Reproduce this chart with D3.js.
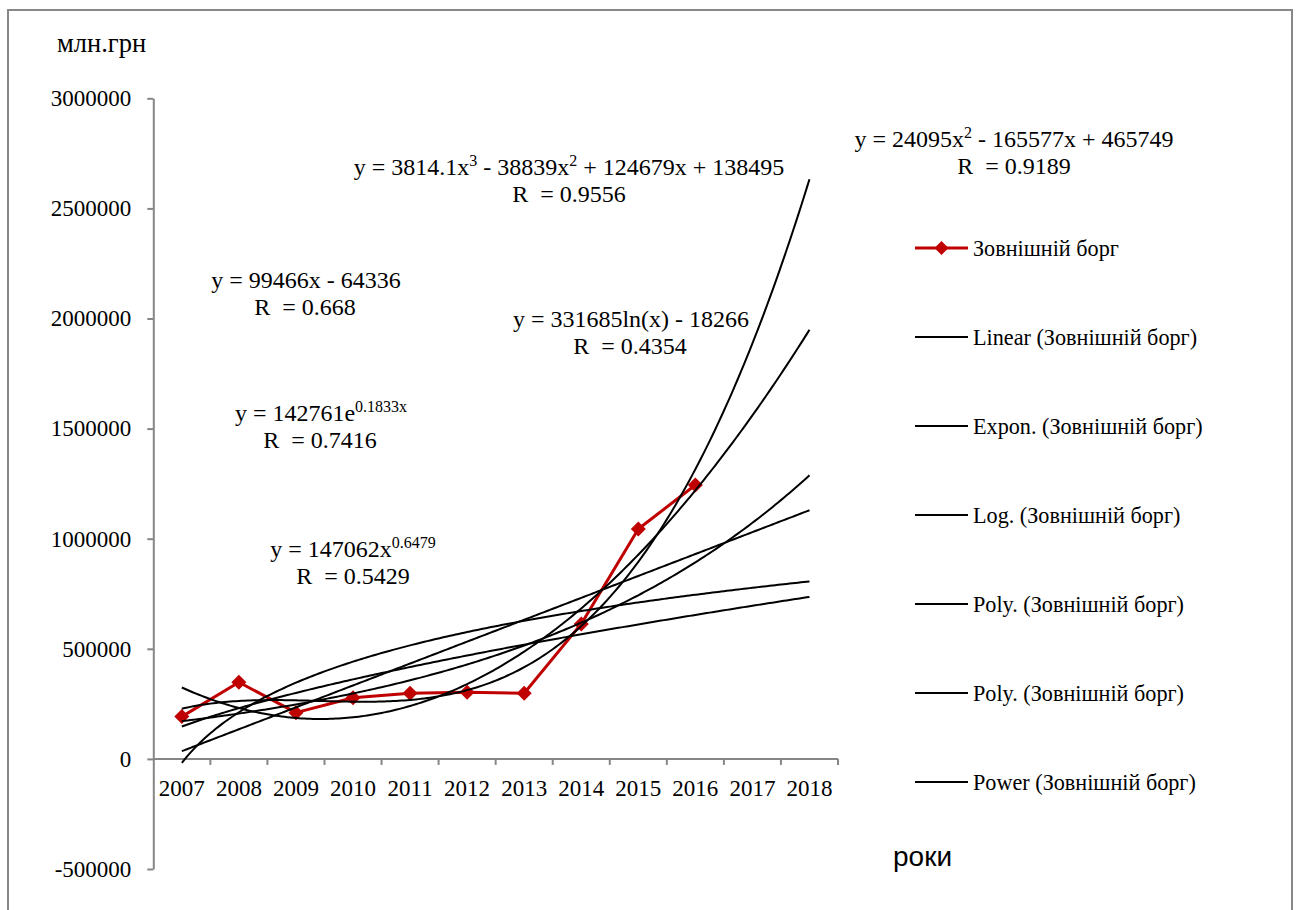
<!DOCTYPE html>
<html>
<head>
<meta charset="utf-8">
<script src="https://cdn.jsdelivr.net/npm/d3@7/dist/d3.min.js"></script>
<style>
  body { margin: 0; background: #fff; }
  svg { display: block; }
  text { font-family: "Liberation Serif", "Times New Roman", serif; fill: #000; white-space: pre; }
</style>
</head>
<body>
<svg id="chart" width="1298" height="910"></svg>
<script>
// ---- data ----
const years = [2007, 2008, 2009, 2010, 2011, 2012, 2013, 2014, 2015, 2016, 2017, 2018];
const debtYears = [2007, 2008, 2009, 2010, 2011, 2012, 2013, 2014, 2015, 2016];
const debtValues = [192000, 348000, 210000, 278000, 298000, 303000, 298000, 613000, 1044000, 1244000];
const yTickValues = [-500000, 0, 500000, 1000000, 1500000, 2000000, 2500000, 3000000];
const seriesName = "Зовнішній борг";
const unitLabel = "млн.грн";
const xAxisTitle = "роки";

// trendline coefficients (x = 1, 2, 3 ... for each year)
const linearCoef = [99466, -64336];                  // a*x + b
const exponCoef = [142761, 0.1833];                  // a*e^(b*x)
const logCoef = [331685, -18266];                    // a*ln(x) + b
const poly2Coef = [24095, -165577, 465749];          // a*x^2 + b*x + c
const poly3Coef = [3814.1, -38839, 124679, 138495];  // a*x^3 + b*x^2 + c*x + d
const powerCoef = [147062, 0.6479];                  // a*x^b
const rValues = { linear: 0.668, expon: 0.7416, log: 0.4354, poly2: 0.9189, poly3: 0.9556, power: 0.5429 };
const legendNames = ["Linear", "Expon.", "Log.", "Poly.", "Poly.", "Power"];

// ---- layout ----
const svg = d3.select("#chart");
const plot = { left: 153.3, right: 838, top: 98.3, bottom: 869 };

svg.append("rect")
  .attr("x", 8).attr("y", 10).attr("width", 1284).attr("height", 920)
  .attr("fill", "none").attr("stroke", "#888").attr("stroke-width", 2);

const x = d3.scaleBand().domain(years).range([plot.left, plot.right]).padding(0);
const y = d3.scaleLinear().domain([-500000, 3000000]).range([plot.bottom, plot.top]);
const xc = d => x(d) + x.bandwidth() / 2;
// continuous x for trendlines: index 1 -> first year centre, 12 -> last year centre
const xt = d3.scaleLinear().domain([1, years.length]).range([xc(years[0]), xc(years[years.length - 1])]);

const axisColor = "#868686";

// y axis
const yAxis = svg.append("g")
  .attr("transform", `translate(${plot.left},0)`)
  .call(d3.axisLeft(y).tickValues(yTickValues).tickSize(6).tickPadding(16)
    .tickFormat(d => String(d)).tickSizeOuter(0));
yAxis.select(".domain").attr("stroke", axisColor).attr("stroke-width", 2);
yAxis.selectAll(".tick line").attr("stroke", axisColor).attr("stroke-width", 2);
yAxis.selectAll(".tick text")
  .attr("font-size", 23).attr("fill", "#000")
  .style("font-family", '"Liberation Serif", "Times New Roman", serif');

// x axis at zero, ticks at category boundaries
const y0 = y(0);
const xAxis = svg.append("g");
xAxis.append("line")
  .attr("x1", plot.left).attr("x2", plot.right).attr("y1", y0).attr("y2", y0)
  .attr("stroke", axisColor).attr("stroke-width", 2);
const boundaries = years.map(d => x(d)).concat([x(years[years.length - 1]) + x.bandwidth()]).slice(1);
xAxis.selectAll("line.tk").data(boundaries).join("line")
  .attr("class", "tk")
  .attr("x1", d => d).attr("x2", d => d).attr("y1", y0).attr("y2", y0 + 6)
  .attr("stroke", axisColor).attr("stroke-width", 2);
xAxis.selectAll("text").data(years).join("text")
  .attr("x", d => xc(d)).attr("y", y0 + 37)
  .attr("text-anchor", "middle").attr("font-size", 23)
  .text(d => d);

// axis titles
svg.append("text").attr("x", 57).attr("y", 52).attr("font-size", 26.5).text(unitLabel);
svg.append("text").attr("x", 893).attr("y", 866).attr("font-size", 28)
  .style("font-family", '"Liberation Sans", Arial, sans-serif').text(xAxisTitle);

// ---- data series ----
const debtColor = "#C00000";
const seriesData = debtYears.map((yr, i) => ({ yr, v: debtValues[i] }));
svg.append("path")
  .datum(seriesData)
  .attr("fill", "none").attr("stroke", debtColor).attr("stroke-width", 3)
  .attr("stroke-linejoin", "round")
  .attr("d", d3.line().x(d => xc(d.yr)).y(d => y(d.v)));

const diamond = r => `M0,${-r}L${r},0L0,${r}L${-r},0Z`;
svg.selectAll("path.mk").data(seriesData).join("path")
  .attr("class", "mk")
  .attr("transform", d => `translate(${xc(d.yr)},${y(d.v)})`)
  .attr("d", diamond(7.5))
  .attr("fill", debtColor);

// ---- trendlines ----
const trendFns = [
  t => linearCoef[0] * t + linearCoef[1],
  t => exponCoef[0] * Math.exp(exponCoef[1] * t),
  t => logCoef[0] * Math.log(t) + logCoef[1],
  t => poly2Coef[0] * t * t + poly2Coef[1] * t + poly2Coef[2],
  t => poly3Coef[0] * t ** 3 + poly3Coef[1] * t * t + poly3Coef[2] * t + poly3Coef[3],
  t => powerCoef[0] * Math.pow(t, powerCoef[1])
];
const tSamples = d3.range(1, years.length + 0.0001, 0.05);
const trendLine = d3.line().x(d => xt(d[0])).y(d => y(d[1])).curve(d3.curveLinear);
trendFns.forEach(f => {
  svg.append("path")
    .datum(tSamples.map(t => [t, f(t)]))
    .attr("fill", "none").attr("stroke", "#000").attr("stroke-width", 2)
    .attr("d", trendLine);
});

// ---- equation labels ----
const sgn = v => (v < 0 ? " - " : " + ") + Math.abs(v);
const eqLabels = [
  { key: "linear", cx: [306, 305], y: 288,
    parts: [["y = " + linearCoef[0] + "x" + sgn(linearCoef[1])]] },
  { key: "expon", cx: [321, 320], y: 421,
    parts: [["y = " + exponCoef[0] + "e"], [exponCoef[1] + "x", true]] },
  { key: "power", cx: [353, 353], y: 557,
    parts: [["y = " + powerCoef[0] + "x"], [String(powerCoef[1]), true]] },
  { key: "log", cx: [631, 630], y: 327,
    parts: [["y = " + logCoef[0] + "ln(x)" + sgn(logCoef[1])]] },
  { key: "poly3", cx: [569, 569], y: 175,
    parts: [["y = " + poly3Coef[0] + "x"], ["3", true], [sgn(poly3Coef[1]) + "x"], ["2", true],
            [sgn(poly3Coef[2]) + "x" + sgn(poly3Coef[3])]] },
  { key: "poly2", cx: [1014, 1014], y: 147,
    parts: [["y = " + poly2Coef[0] + "x"], ["2", true], [sgn(poly2Coef[1]) + "x" + sgn(poly2Coef[2])]] }
];
const lineGap = 26.5;
const eqSize = 24, supSize = 16, supRise = 9;
eqLabels.forEach(lb => {
  const t = svg.append("text")
    .attr("x", lb.cx[0]).attr("y", lb.y)
    .attr("text-anchor", "middle").attr("font-size", eqSize);
  let raised = false;
  lb.parts.forEach(([s, sup]) => {
    const ts = t.append("tspan").text(s);
    if (sup) { ts.attr("font-size", supSize).attr("dy", raised ? 0 : -supRise); raised = true; }
    else if (raised) { ts.attr("dy", supRise); raised = false; }
  });
  svg.append("text")
    .attr("x", lb.cx[1]).attr("y", lb.y + lineGap)
    .attr("text-anchor", "middle").attr("font-size", eqSize)
    .text("R  = " + rValues[lb.key]);
});

// ---- legend ----
const legend = svg.append("g");
const legendItems = [seriesName].concat(legendNames.map(n => `${n} (${seriesName})`));
const legendY = d3.scalePoint().domain(d3.range(legendItems.length)).range([248, 782]);
legendItems.forEach((name, i) => {
  const ly = legendY(i);
  const isSeries = i === 0;
  legend.append("line")
    .attr("x1", 915).attr("x2", 968).attr("y1", ly).attr("y2", ly)
    .attr("stroke", isSeries ? debtColor : "#000").attr("stroke-width", isSeries ? 3 : 2);
  if (isSeries) {
    legend.append("path").attr("transform", `translate(941.5,${ly})`)
      .attr("d", diamond(7)).attr("fill", debtColor);
  }
  legend.append("text").attr("x", 973).attr("y", ly + 8).attr("font-size", 22.2).text(name);
});
</script>
</body>
</html>
